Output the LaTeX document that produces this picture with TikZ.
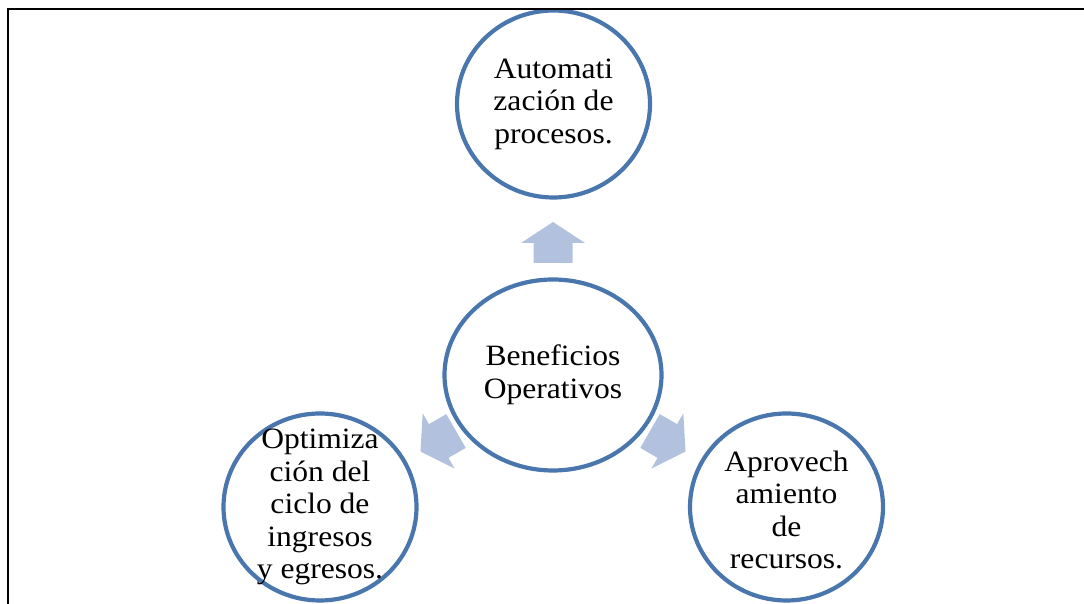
\documentclass[tikz,border=0pt]{standalone}
\usepackage{fontspec}
\setmainfont{Liberation Serif}[FakeStretch=1.07]
\usetikzlibrary{shapes.geometric}
\definecolor{ringblue}{HTML}{4A76AE}
\definecolor{arrowblue}{HTML}{B2C2DE}
\tikzset{
  ring/.style={ellipse, draw=ringblue, line width=4.2pt, fill=white, inner sep=0pt},
  outer/.style={ring, minimum width=193pt, minimum height=187pt},
  txt/.style={align=center, inner sep=0pt, font=\fontsize{29.5}{32.5}\selectfont},
  bigarrow/.style={fill=arrowblue, draw=none},
  frameline/.style={line width=2pt, black}
}
\begin{document}
\begin{tikzpicture}[x=1pt,y=1pt]
\useasboundingbox (0,0) rectangle (1084,604);
\node[ring, minimum width=217pt, minimum height=191pt] (c) at (553,229) {};
\node[outer] (t) at (553.5,500) {};
\node[outer] (l) at (320,97) {};
\node[outer] (r) at (786.5,97) {};
\node[txt] (ct) at (c.center) {Beneficios\\Operativos};
\node[txt] (tt) at (t.center) {Automati\\zación de\\procesos.};
\node[txt] (lt) at (l.center) {Optimiza\\ción del\\ciclo de\\ingresos\\y egresos.};
\node[txt] (rt) at ([yshift=-3pt]r.center) {Aprovech\\amiento\\de\\recursos.};
\foreach \a in {90,210,330}{
  \begin{scope}[shift={(c.center)}, rotate=\a]
    \fill[bigarrow] (112,-19.5) -- (132,-19.5) -- (132,-32) -- (153,0) -- (132,32) -- (132,19.5) -- (112,19.5) -- cycle;
  \end{scope}
}
\coordinate (fa) at (7.5,-5);
\coordinate (fb) at (7.5,594.5);
\coordinate (fc) at (1090,594.5);
\draw[frameline] (fa) -- (fb) -- (fc);
\end{tikzpicture}
\end{document}
